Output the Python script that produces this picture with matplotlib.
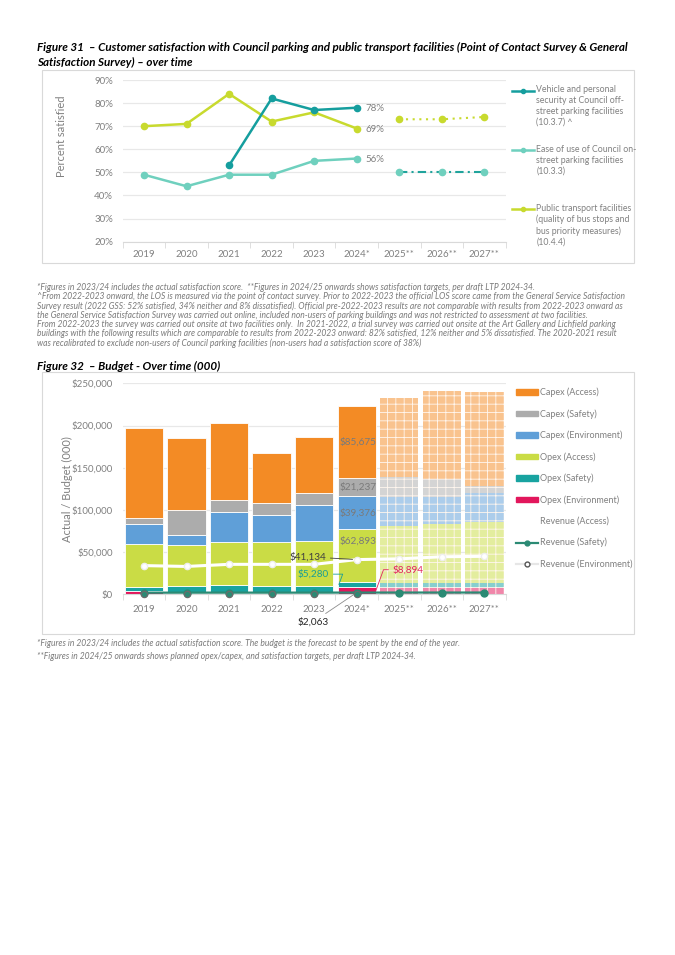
import numpy as np
import matplotlib
matplotlib.use('Agg')
import matplotlib.pyplot as plt
from matplotlib.patches import Rectangle, Patch
from matplotlib.lines import Line2D
from matplotlib.ticker import FuncFormatter, FixedLocator

plt.rcParams['font.family'] = ['Lato', 'DejaVu Sans']
plt.rcParams['hatch.linewidth'] = 0.6

# ---- Figure 31 data (percent satisfied) ----
years = ['2019', '2020', '2021', '2022', '2023', '2024*', '2025**', '2026**', '2027**']
vehicle_security = [np.nan, np.nan, 53, 82, 77, 78, np.nan, np.nan, np.nan]
ease_of_use = [49, 44, 49, 49, 55, 56, np.nan, np.nan, np.nan]
ease_of_use_target = [np.nan, np.nan, np.nan, np.nan, np.nan, np.nan, 50, 50, 50]
public_transport = [70, 71, 84, 72, 76, 69, np.nan, np.nan, np.nan]
public_transport_target = [np.nan, np.nan, np.nan, np.nan, np.nan, np.nan, 73, 73, 74]

# ---- Figure 32 data (budget, $000) ----
opex_env = [4000, 1000, 1000, 1000, 2000, 8894, 7100, 7000, 7800]
opex_safety = [4300, 8800, 9600, 8800, 8200, 5280, 5900, 6000, 5200]
opex_access = [51300, 48600, 51000, 51800, 52600, 62893, 67900, 70300, 73000]
capex_env = [24100, 11900, 35600, 32000, 43400, 39376, 34800, 32400, 33700]
capex_safety = [6300, 29600, 14600, 14200, 14200, 21237, 23700, 20600, 8600]
capex_access = [107400, 85700, 90900, 60000, 66000, 85675, 92900, 104600, 111100]
revenue_access = [34000, 33000, 35500, 35500, 35500, 41134, 42000, 44500, 45000]
revenue_safety = [1900, 2000, 2000, 2000, 2000, 2063, 2100, 2100, 2100]
revenue_env = [0, 0, 0, 0, 0, 0, np.nan, np.nan, np.nan]

W, H = 675, 955
fig = plt.figure(figsize=(W / 100, H / 100), dpi=100)


def box(x0, y0, x1, y1):
    return [x0 / W, 1 - y1 / H, (x1 - x0) / W, (y1 - y0) / H]


def frame(x0, y0, x1, y1):
    fig.add_artist(Rectangle((x0 / W, 1 - y1 / H), (x1 - x0) / W, (y1 - y0) / H,
                             transform=fig.transFigure, fill=False,
                             edgecolor='#d9d9d9', lw=0.8))


def ftext(x, y, s, **kw):
    fig.text(x / W, 1 - y / H, s, **kw)


grey = '#808080'
x = np.arange(len(years))


def style_axis(ax):
    for s in ['top', 'right', 'left']:
        ax.spines[s].set_visible(False)
    ax.spines['bottom'].set_color('#d9d9d9')
    ax.set_xlim(-0.5, len(years) - 0.5)
    ax.set_xticks(x)
    ax.set_xticklabels(years)
    ax.xaxis.set_minor_locator(FixedLocator(np.arange(-0.5, len(years), 1)))
    ax.tick_params(axis='x', which='major', length=0, pad=6, labelsize=7, labelcolor=grey)
    ax.tick_params(axis='x', which='minor', length=4, color='#d9d9d9')
    ax.tick_params(axis='y', length=0, pad=7, labelsize=7, labelcolor=grey)
    ax.grid(axis='y', color='#e8e8e8', lw=0.9)
    ax.set_axisbelow(True)


# ================= Figure 31 =================
ftext(37, 47, 'Figure 31  \u2013 Customer satisfaction with Council parking and public transport facilities (Point of Contact Survey & General',
      fontsize=8.4, fontweight='bold', style='italic', va='center')
ftext(37, 62, 'Satisfaction Survey) \u2013 over time',
      fontsize=8.4, fontweight='bold', style='italic', va='center')
frame(42, 70, 634, 263)

c_vehicle = '#159e9e'
c_ease = '#6fd0be'
c_public = '#c8da2e'

ax1 = fig.add_axes(box(122.7, 80, 505.7, 241.7))
style_axis(ax1)
ax1.set_ylim(20, 90)
ax1.set_yticks(range(20, 91, 10))
ax1.yaxis.set_major_formatter(FuncFormatter(lambda v, p: '%d%%' % v))
ax1.set_ylabel('Percent satisfied', fontsize=8, color=grey)
ax1.yaxis.set_label_coords(-0.145, 0.655)

ax1.plot(x, public_transport, color=c_public, lw=1.8, marker='o', ms=4.5)
ax1.plot(x, public_transport_target, color=c_public, lw=1.5, ls=(0, (1, 2.2)), marker='o', ms=4.5)
ax1.plot(x, ease_of_use, color=c_ease, lw=1.8, marker='o', ms=4.5)
ax1.plot(x, ease_of_use_target, color='#20a39c', lw=1.5, ls=(0, (4, 2, 1, 2)),
         marker='o', ms=4.5, mfc=c_ease, mec=c_ease)
ax1.plot(x, vehicle_security, color=c_vehicle, lw=1.8, marker='o', ms=4.5)

for series in [vehicle_security, public_transport, ease_of_use]:
    ax1.annotate('%d%%' % series[5], (5, series[5]), xytext=(6.5, -0.5),
                 textcoords='offset points', fontsize=7, color=grey, va='center')

legend1 = [
    ('Vehicle and personal\nsecurity at Council off-\nstreet parking facilities\n(10.3.7) ^', c_vehicle, 90.7),
    ('Ease of use of Council on-\nstreet parking facilities\n(10.3.3)', c_ease, 150),
    ('Public transport facilities\n(quality of bus stops and\nbus priority measures)\n(10.4.4)', c_public, 209),
]
for label, col, yy in legend1:
    fig.add_artist(Line2D([511.7 / W, 534 / W], [1 - yy / H, 1 - yy / H], color=col, lw=1.8,
                          transform=fig.transFigure))
    fig.add_artist(Line2D([522.8 / W], [1 - yy / H], color=col, marker='o', ms=3,
                          transform=fig.transFigure))
    ftext(536.5, yy - 5.3, label, fontsize=6.3, color=grey, va='top', linespacing=1.26)

notes1 = [
    '*Figures in 2023/24 includes the actual satisfaction score.  **Figures in 2024/25 onwards shows satisfaction targets, per draft LTP 2024-34.',
    '^From 2022-2023 onward, the LOS is measured via the point of contact survey. Prior to 2022-2023 the official LOS score came from the General Service Satisfaction',
    'Survey result (2022 GSS: 52% satisfied, 34% neither and 8% dissatisfied). Official pre-2022-2023 results are not comparable with results from 2022-2023 onward as',
    'the General Service Satisfaction Survey was carried out online, included non-users of parking buildings and was not restricted to assessment at two facilities.',
    'From 2022-2023 the survey was carried out onsite at two facilities only.  In 2021-2022, a trial survey was carried out onsite at the Art Gallery and Lichfield parking',
    'buildings with the following results which are comparable to results from 2022-2023 onward: 82% satisfied, 12% neither and 5% dissatisfied. The 2020-2021 result',
    'was recalibrated to exclude non-users of Council parking facilities (non-users had a satisfaction score of 38%)',
]
for i, line in enumerate(notes1):
    ftext(37, 287.3 + i * 9.3, line, fontsize=6.15, style='italic', color='#7a7a7a', va='center')

# ================= Figure 32 =================
ftext(37, 366, 'Figure 32  \u2013 Budget - Over time (000)',
      fontsize=8.4, fontweight='bold', style='italic', va='center')
frame(42, 372, 634, 634)

ax2 = fig.add_axes(box(122.7, 383.3, 505.7, 594.3))
style_axis(ax2)
ax2.set_ylim(0, 250000)
ax2.set_yticks(range(0, 250001, 50000))
ax2.yaxis.set_major_formatter(FuncFormatter(lambda v, p: '${:,.0f}'.format(v)))
ax2.set_ylabel('Actual / Budget (000)', fontsize=8, color=grey)
ax2.yaxis.set_label_coords(-0.13, 0.5)
ax2.tick_params(axis='x', which='major', pad=8)

segments = [
    ('Opex (Environment)', opex_env, '#e2175c'),
    ('Opex (Safety)', opex_safety, '#18a3a0'),
    ('Opex (Access)', opex_access, '#cadc45'),
    ('Capex (Environment)', capex_env, '#5f9fd8'),
    ('Capex (Safety)', capex_safety, '#acacac'),
    ('Capex (Access)', capex_access, '#f38b25'),
]


def lighten(c, f=0.5):
    rgb = np.array(matplotlib.colors.to_rgb(c))
    return tuple(rgb + (1 - rgb) * f)


bottom = np.zeros(len(years))
bar_w = 0.9
for name, vals, col in segments:
    vals = np.array(vals, dtype=float)
    ax2.bar(x[:6], vals[:6], bar_w, bottom=bottom[:6], color=col, edgecolor='white', lw=0.6)
    ax2.bar(x[6:], vals[6:], bar_w, bottom=bottom[6:], color=lighten(col, 0.48),
            edgecolor='#fff6ee', lw=0, hatch='++')
    bottom += vals

ax2.plot(x, revenue_access, color='white', lw=2.2, marker='o', ms=4.5,
         mfc='white', mec='#eeeeee', zorder=4)
ax2.plot(x, revenue_safety, color='#2b8a74', lw=1.6, marker='o', ms=5, zorder=5, clip_on=False)
ax2.plot(x, revenue_env, color='#d9d9d9', lw=0, marker='o', ms=4.5, mfc='none',
         mec='#6b6b6b', mew=0.9, zorder=6, clip_on=False)

# data labels on the 2024 bar
i = 5
lab_col = '#7a7a7a'
b = opex_env[i] + opex_safety[i]
ax2.annotate('${:,}'.format(opex_access[i]), (i - bar_w / 2, b + 0.77 * opex_access[i]),
             xytext=(1.5, 0), textcoords='offset points', fontsize=7.2, color=lab_col, va='center')
b += opex_access[i]
for vals in [capex_env, capex_safety, capex_access]:
    ax2.annotate('${:,}'.format(vals[i]), (i - bar_w / 2, b + vals[i] / 2),
                 xytext=(1.5, 0), textcoords='offset points', fontsize=7.2, color=lab_col, va='center')
    b += vals[i]

ax2.annotate('${:,}'.format(revenue_access[i]), (i, revenue_access[i]), xytext=(-22, 2),
             textcoords='offset points', ha='right', va='center', fontsize=7.2, color='#404040',
             arrowprops=dict(arrowstyle='-', color='#404040', lw=0.6, shrinkA=1, shrinkB=3), zorder=7)
ax2.annotate('${:,}'.format(opex_safety[i]), (i - bar_w / 2 + 0.03, opex_env[i] + opex_safety[i] / 2),
             xytext=(-7, 7.5), textcoords='offset points', ha='right', va='center', fontsize=7.2,
             color='#1a9e96',
             arrowprops=dict(arrowstyle='-', color='#1a9e96', lw=0.6, shrinkA=1, shrinkB=0,
                             connectionstyle='angle,angleA=0,angleB=70,rad=0'), zorder=7)
ax2.annotate('${:,}'.format(opex_env[i]), (i + bar_w / 2, opex_env[i] / 2),
             xytext=(12, 15), textcoords='offset points', ha='left', va='center', fontsize=7.2,
             color='#e2245e',
             arrowprops=dict(arrowstyle='-', color='#e2245e', lw=0.6, shrinkA=1, shrinkB=0,
                             connectionstyle='angle,angleA=0,angleB=70,rad=0'), zorder=7)
ax2.annotate('${:,}'.format(revenue_safety[i]), (i, revenue_safety[i]), xytext=(-20, -21),
             textcoords='offset points', ha='right', va='center', fontsize=7.2, color='#262626',
             arrowprops=dict(arrowstyle='-', color='#8c8c8c', lw=0.6, shrinkA=1, shrinkB=3),
             zorder=7, annotation_clip=False)

handles = [Patch(color=col) for name, vals, col in segments[::-1]]
labels = [name for name, vals, col in segments[::-1]]
handles += [Line2D([], [], color='white', lw=2, marker='o', ms=3, mfc='white', mec='white'),
            Line2D([], [], color='#2b8a74', lw=1.6, marker='o', ms=3.5),
            Line2D([], [], color='#e6e6e6', lw=1.6, marker='o', ms=3.5, mfc='white', mec='#555555')]
labels += ['Revenue (Access)', 'Revenue (Safety)', 'Revenue (Environment)']
fig.legend(handles, labels, loc='upper left', bbox_to_anchor=(512 / W, 1 - 384 / H),
           frameon=False, fontsize=6.5, labelcolor=grey, handlelength=2.5, handleheight=0.55,
           handletextpad=0.25, labelspacing=1.33, borderaxespad=0)

notes2 = [
    '*Figures in 2023/24 includes the actual satisfaction score. The budget is the forecast to be spent by the end of the year.',
    '**Figures in 2024/25 onwards shows planned opex/capex, and satisfaction targets, per draft LTP 2024-34.',
]
for k, line in enumerate(notes2):
    ftext(37, 643 + k * 13.5, line, fontsize=6.15, style='italic', color='#7a7a7a', va='center')

fig.savefig('out.png', dpi=100, facecolor='white')
